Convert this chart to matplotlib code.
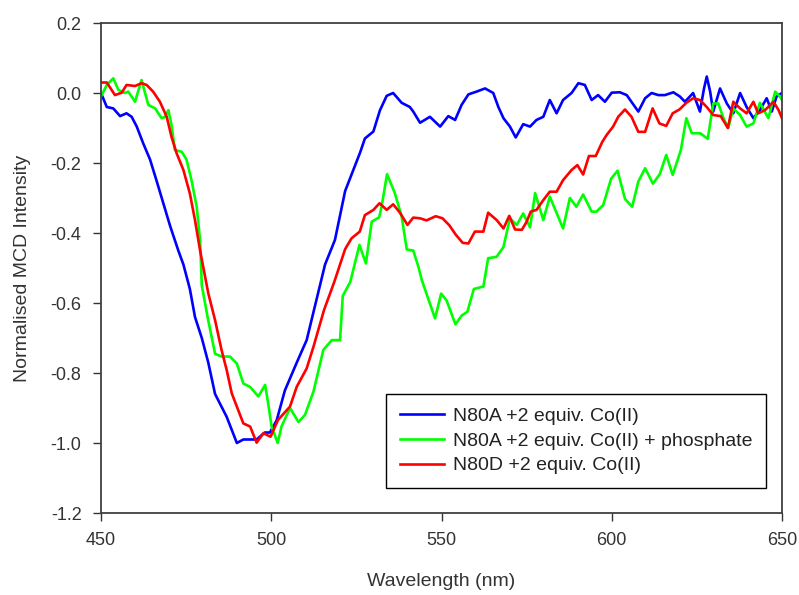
import matplotlib
matplotlib.use('Agg')
import matplotlib.pyplot as plt

plt.rcParams['font.family'] = ['Liberation Sans', 'DejaVu Sans']

# N80A +2 equiv. Co(II)
blue_x = [450.0, 451.7, 453.6, 455.6, 457.5, 459.0, 460.5, 462.4, 464.4, 466.3,
          468.3, 470.3, 472.7, 474.2, 476.1, 477.6, 479.6, 481.5, 483.5, 486.9,
          489.9, 491.8, 493.8, 495.7, 498.1, 499.6, 501.6, 504.0, 507.5, 510.4,
          513.3, 515.8, 518.7, 521.7, 524.1, 526.1, 527.5, 530.0, 531.9, 533.9,
          535.8, 538.3, 540.7, 541.7, 543.7, 546.6, 549.6, 552.0, 554.0, 555.9,
          557.9, 560.3, 562.8, 565.2, 566.7, 568.2, 570.1, 571.8, 574.0, 576.0,
          577.9, 579.9, 581.8, 583.8, 585.7, 588.2, 590.2, 592.1, 594.1, 596.0,
          598.0, 600.0, 602.4, 604.4, 607.8, 609.8, 611.7, 613.7, 615.6, 618.1,
          620.0, 621.5, 623.9, 625.9, 627.1, 627.9, 628.9, 629.8, 631.8, 633.8,
          635.7, 637.7, 639.6, 641.6, 643.5, 645.5, 647.0, 648.4, 650.0]
blue_y = [0.0, -0.04, -0.044, -0.066, -0.058, -0.068, -0.096, -0.144, -0.19, -0.25,
          -0.315, -0.38, -0.45, -0.49, -0.56, -0.64, -0.7, -0.77, -0.86, -0.925,
          -1.0, -0.99, -0.99, -0.99, -0.97, -0.97, -0.935, -0.85, -0.77, -0.706,
          -0.59, -0.49, -0.42, -0.28, -0.22, -0.17, -0.13, -0.11, -0.05, -0.008,
          0.0, -0.028, -0.04, -0.053, -0.085, -0.068, -0.096, -0.066, -0.077, -0.034,
          -0.004, 0.004, 0.013, 0.0, -0.04, -0.072, -0.096, -0.127, -0.089, -0.096,
          -0.077, -0.068, -0.02, -0.058, -0.02, 0.0, 0.028, 0.023, -0.02, -0.006,
          -0.025, 0.001, 0.002, -0.006, -0.053, -0.015, 0.0, -0.006, -0.006, 0.002,
          -0.01, -0.025, 0.0, -0.053, 0.013, 0.047, 0.004, -0.053, 0.013, -0.03,
          -0.058, 0.0, -0.04, -0.072, -0.049, -0.015, -0.053, -0.01, 0.0]

# N80A +2 equiv. Co(II) + phosphate
green_x = [450.0, 451.7, 453.6, 455.1, 457.0, 458.0, 460.0, 461.9, 463.9, 465.9,
           467.8, 468.8, 469.8, 470.7, 471.7, 473.7, 475.1, 476.6, 478.1, 479.1,
           479.6, 481.5, 483.5, 485.4, 487.9, 489.9, 491.8, 493.8, 496.2, 498.2,
           499.1, 500.1, 501.9, 503.0, 505.5, 508.0, 509.9, 512.4, 515.3, 517.8,
           520.2, 521.0, 523.2, 525.9, 527.8, 529.5, 531.7, 532.4, 534.0, 536.3,
           538.3, 539.8, 541.7, 543.2, 544.2, 548.1, 549.9, 551.5, 554.1, 555.9,
           557.6, 559.5, 562.3, 563.7, 566.2, 568.2, 570.1, 572.1, 574.0, 576.0,
           577.5, 579.9, 581.8, 585.7, 587.7, 589.6, 591.6, 594.1, 595.5, 597.5,
           599.8, 601.7, 603.9, 606.0, 607.8, 609.8, 612.1, 614.1, 616.0, 617.9,
           620.3, 621.9, 623.5, 626.0, 628.2, 629.8, 631.3, 632.8, 634.2, 635.7,
           637.7, 639.6, 641.6, 643.5, 646.0, 648.0, 649.4, 650.0]
green_y = [-0.01, 0.023, 0.042, 0.009, 0.0, 0.004, -0.025, 0.037, -0.034, -0.044,
           -0.072, -0.068, -0.049, -0.091, -0.163, -0.168, -0.19, -0.25, -0.325, -0.42,
           -0.55, -0.65, -0.745, -0.753, -0.753, -0.773, -0.83, -0.84, -0.867, -0.834,
           -0.887, -0.953, -1.0, -0.953, -0.9, -0.94, -0.92, -0.853, -0.734, -0.706,
           -0.706, -0.58, -0.54, -0.434, -0.487, -0.368, -0.355, -0.325, -0.232, -0.286,
           -0.353, -0.447, -0.45, -0.496, -0.534, -0.644, -0.573, -0.593, -0.661, -0.636,
           -0.625, -0.56, -0.553, -0.472, -0.468, -0.44, -0.358, -0.377, -0.344, -0.384,
           -0.286, -0.363, -0.296, -0.387, -0.3, -0.325, -0.29, -0.339, -0.339, -0.32,
           -0.245, -0.222, -0.303, -0.325, -0.253, -0.215, -0.259, -0.232, -0.177, -0.234,
           -0.163, -0.072, -0.115, -0.115, -0.131, -0.03, -0.03, -0.072, -0.1, -0.044,
           -0.063, -0.096, -0.087, -0.028, -0.072, 0.004, -0.01, -0.02]

# N80D +2 equiv. Co(II)
red_x = [450.0, 451.7, 454.1, 456.1, 457.5, 460.0, 461.9, 463.4, 465.3, 467.3,
         469.3, 470.7, 472.2, 474.2, 476.1, 477.6, 479.1, 481.5, 483.5, 485.4,
         486.9, 488.4, 489.9, 491.8, 493.8, 495.7, 497.7, 499.8, 502.0, 505.5,
         507.5, 510.4, 512.4, 515.5, 518.5, 521.7, 523.6, 526.0, 527.5, 530.0,
         531.8, 533.9, 535.8, 537.8, 540.0, 541.7, 543.7, 545.6, 548.3, 550.3,
         552.3, 554.2, 556.2, 557.9, 559.8, 562.3, 563.7, 566.2, 568.2, 569.9,
         571.6, 573.6, 575.0, 576.2, 577.9, 579.9, 581.8, 583.8, 585.7, 588.2,
         589.9, 591.6, 593.3, 595.3, 597.2, 598.5, 600.4, 601.9, 603.9, 605.8,
         607.8, 609.8, 612.0, 614.0, 616.0, 617.9, 619.9, 621.9, 623.9, 625.9,
         627.9, 629.8, 632.0, 634.1, 635.7, 637.7, 639.6, 641.6, 643.0, 645.0,
         647.5, 649.0, 650.0]
red_y = [0.03, 0.03, -0.006, 0.001, 0.023, 0.02, 0.028, 0.023, 0.004, -0.025,
         -0.068, -0.125, -0.172, -0.22, -0.287, -0.363, -0.45, -0.572, -0.649, -0.734,
         -0.791, -0.858, -0.896, -0.944, -0.953, -0.999, -0.972, -0.982, -0.934, -0.896,
         -0.839, -0.787, -0.725, -0.62, -0.54, -0.446, -0.415, -0.396, -0.349, -0.334,
         -0.315, -0.334, -0.318, -0.342, -0.377, -0.356, -0.358, -0.364, -0.352, -0.358,
         -0.378, -0.405, -0.428, -0.43, -0.396, -0.396, -0.342, -0.363, -0.387, -0.351,
         -0.39, -0.391, -0.368, -0.339, -0.334, -0.306, -0.282, -0.282, -0.249, -0.22,
         -0.206, -0.233, -0.18, -0.18, -0.14, -0.12, -0.096, -0.068, -0.047, -0.068,
         -0.111, -0.111, -0.044, -0.087, -0.094, -0.058, -0.047, -0.028, -0.015, -0.02,
         -0.04, -0.063, -0.066, -0.1, -0.025, -0.044, -0.058, -0.025, -0.058, -0.049,
         -0.025, -0.049, -0.072]

labels = ['N80A +2 equiv. Co(II)',
          'N80A +2 equiv. Co(II) + phosphate',
          'N80D +2 equiv. Co(II)']

fig = plt.figure(figsize=(7.99, 5.95), dpi=100)
ax = fig.add_axes([101 / 799, 1 - 513 / 595, 681 / 799, 490 / 595])

ax.plot(blue_x, blue_y, color='#0000ff', lw=1.9, label=labels[0])
ax.plot(green_x, green_y, color='#00ff00', lw=1.9, label=labels[1])
ax.plot(red_x, red_y, color='#ff0000', lw=1.9, label=labels[2])

ax.set_xlim(450, 650)
ax.set_ylim(-1.2, 0.2)
ax.set_xticks([450, 500, 550, 600, 650])
ax.set_yticks([-1.2, -1.0, -0.8, -0.6, -0.4, -0.2, 0.0, 0.2])
ax.set_yticklabels(['%.1f' % v for v in ax.get_yticks()])
ax.tick_params(direction='out', length=6, width=1, colors='#333333',
               labelsize=13, pad=8, top=False, right=False)
for s in ax.spines.values():
    s.set_color('#404040')
    s.set_linewidth(1.3)

ax.set_xlabel('Wavelength (nm)', fontsize=14, color='#333333', labelpad=17)
ax.set_ylabel('Normalised MCD Intensity', fontsize=14, color='#333333', labelpad=14)

leg = ax.legend(loc='lower right', bbox_to_anchor=(0.977, 0.051), fontsize=14,
                frameon=True, fancybox=False, edgecolor='black', framealpha=1,
                handlelength=2.3, handletextpad=0.45, labelspacing=0.37,
                borderpad=0.7, borderaxespad=0)
leg.get_frame().set_linewidth(1.0)
for t in leg.get_texts():
    t.set_color('#222222')

fig.savefig('out.png', dpi=100)
